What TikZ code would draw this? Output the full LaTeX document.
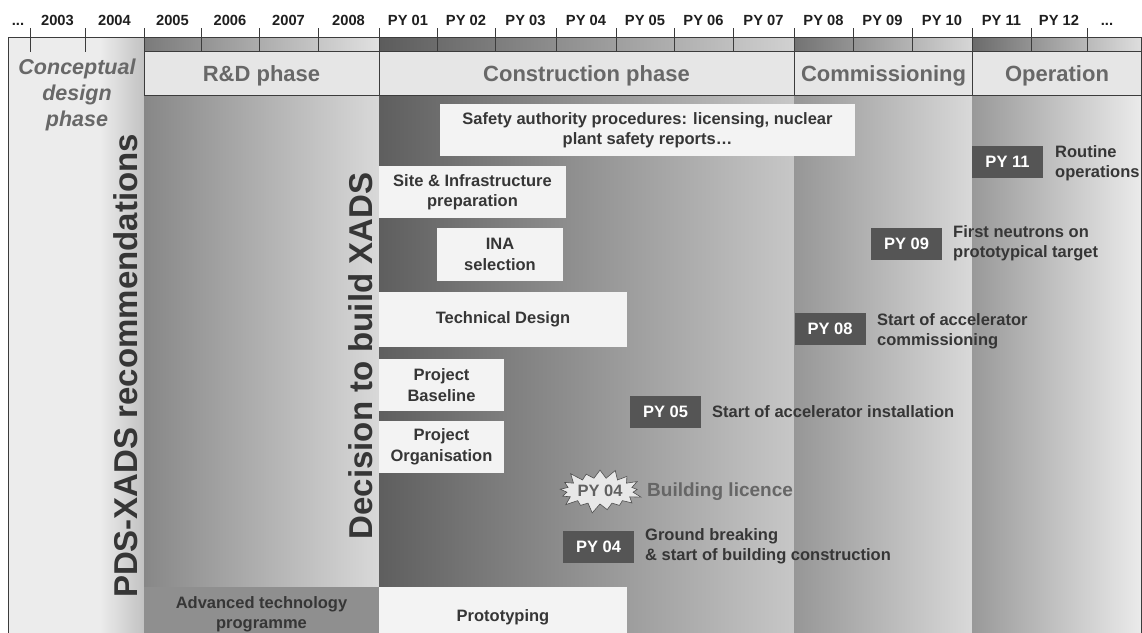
\documentclass[tikz,border=0pt]{standalone}
\usepackage{fontspec}
\setmainfont{Liberation Sans}
\usetikzlibrary{shapes.symbols}
\definecolor{txt}{HTML}{363636}
\definecolor{phasegray}{HTML}{686868}
\definecolor{hdrfill}{HTML}{E6E6E6}
\definecolor{boxfill}{HTML}{F3F3F3}
\definecolor{mfill}{HTML}{555555}
\definecolor{lines}{HTML}{3C3C3C}
\definecolor{colfill}{HTML}{ECECEC}
\begin{document}
\begin{tikzpicture}[x=1pt,y=-1pt,
  yr/.style={font=\fontsize{14.7}{16}\selectfont\bfseries, text=black!88, anchor=base, inner sep=0},
  hdrbox/.style={draw=lines, fill=hdrfill, line width=0.8pt},
  phasetxt/.style={font=\fontsize{22}{24}\selectfont\bfseries, text=phasegray, anchor=base, inner sep=0},
  wbox/.style={fill=boxfill, text=txt, font=\fontsize{16.5}{20.5}\selectfont\bfseries, align=center, inner sep=0},
  mbox/.style={fill=mfill, text=white, font=\fontsize{16.5}{20}\selectfont\bfseries, inner sep=0, minimum width=71pt, minimum height=32pt},
  mtxt/.style={text=txt, font=\fontsize{16.5}{20}\selectfont\bfseries, align=left, anchor=west, inner sep=0},
  vtxt/.style={rotate=90, anchor=base, font=\fontsize{33}{36}\selectfont\bfseries, text=txt, inner sep=0},
  tickline/.style={draw=lines, line width=0.8pt}
]
\useasboundingbox (0,0) rectangle (1142,632);
\begin{scope}
\clip (0,0) rectangle (1142,632);
\fill[white] (0,0) rectangle (1142,632);
% left column
\fill[colfill] (8,37) rectangle (144,640);
\shade[left color=colfill, right color=black!24] (100,37) rectangle (144,640);
% top strips
\shade[left color=black!52, right color=black!12] (144,37) rectangle (379,51);
\shade[left color=black!64, right color=black!18] (379,37) rectangle (794,51);
\shade[left color=black!55, right color=black!16] (794,37) rectangle (972,51);
\shade[left color=black!58, right color=black!13] (972,37) rectangle (1141,51);
% bodies
\shade[left color=black!47, right color=black!15] (144,95) rectangle (379,587);
\shade[left color=black!63, right color=black!22] (379,95) rectangle (794,640);
\shade[left color=black!41, right color=black!15] (794,95) rectangle (972,640);
\shade[left color=black!40, right color=black!8] (972,95) rectangle (1141,640);
% header boxes
\draw[hdrbox] (144,51) rectangle (379,95);
\draw[hdrbox] (379,51) rectangle (794,95);
\draw[hdrbox] (794,51) rectangle (972,95);
\draw[hdrbox] (972,51) rectangle (1141,95);
% frame
\draw[lines, line width=0.8pt] (8,640) -- (8,37) -- (1141,37) -- (1141,640);
\foreach \x in {30,85,144,201,259,318,379,437,495,556,616,674,733,794,853,912,972,1031,1087}
  \draw[tickline] (\x,28) -- (\x,52);
% year labels
\node[yr] (ylA) at (18,25.5) {...};
\foreach \x/\t [count=\i] in {57.5/2003,114.5/2004,172.5/2005,230/2006,288.5/2007,348.5/2008,408/PY 01,466/PY 02,525.5/PY 03,586/PY 04,645/PY 05,703.5/PY 06,763.5/PY 07,823.5/PY 08,882.5/PY 09,942/PY 10,1001.5/PY 11,1059/PY 12}
  \node[yr] (yl\i) at (\x,25.5) {\t};
\node[yr] (ylB) at (1107,25.5) {...};
% phase headers
\node[phasetxt] (rd) at (261.5,81.5) {R\&D phase};
\node[phasetxt] (cons) at (586.5,81.5) {Construction phase};
\node[phasetxt] (comm) at (883.5,81.5) {Commissioning};
\node[phasetxt] (oper) at (1057,81.5) {Operation};
\node[font=\fontsize{21.5}{26}\selectfont\bfseries\itshape, text=phasegray, align=center, inner sep=0] (concept) at (77,95) {Conceptual\\design\\phase};
% advanced technology
\node[fill=black!44, text=txt, font=\fontsize{16.5}{20}\selectfont\bfseries, align=center, inner sep=0, minimum width=235pt, minimum height=54pt] (adv) at (261.5,614) {Advanced technology\\programme};
% vertical texts
\node[vtxt] (pds) at (137,366) {PDS-XADS recommendations};
\node[vtxt] (decision) at (372,356) {Decision to build XADS};
% white boxes
\node[wbox, minimum width=415pt, minimum height=52pt] (safety) at (647.5,130) {Safety authority procedures: licensing, nuclear\\plant safety reports\ldots};
\node[wbox, minimum width=187pt, minimum height=52pt] (site) at (472.5,192) {Site \& Infrastructure\\preparation};
\node[wbox, minimum width=126pt, minimum height=53pt] (ina) at (500,254.5) {INA\\selection};
\node[wbox, minimum width=248pt, minimum height=55pt] (tech) at (503,319.5) {Technical Design};
\node[wbox, minimum width=125pt, minimum height=52pt] (baseline) at (441.5,385) {Project\\Baseline};
\node[wbox, minimum width=125pt, minimum height=52pt] (organisation) at (441.5,447) {Project\\Organisation};
\node[wbox, minimum width=248pt, minimum height=60pt] (proto) at (503,617) {Prototyping};
% milestones
\node[mbox] (m05) at (665.5,412) {PY 05};
\node[mtxt] (t05) at (712,412) {Start of accelerator installation};
\node[mbox] (m04) at (598.5,546.5) {PY 04};
\node[mtxt] (t04) at (645,546) {Ground breaking\\\& start of building construction};
\node[mbox] (m08) at (830,329) {PY 08};
\node[mtxt] (t08) at (877,331) {Start of accelerator\\commissioning};
\node[mbox] (m09) at (906.5,243.5) {PY 09};
\node[mtxt] (t09) at (953,243) {First neutrons on\\prototypical target};
\node[mbox] (m11) at (1007.5,162) {PY 11};
\node[mtxt] (t11) at (1055,163) {Routine\\operations};
% building licence
\node[starburst, starburst points=17, starburst point height=11pt, minimum width=78pt, minimum height=48pt, fill=black!9, draw=black!70, line width=0.6pt, inner sep=1pt, text=black!62, font=\fontsize{16.5}{20}\selectfont\bfseries] (burst) at (600,491) {PY 04};
\node[anchor=west, inner sep=0, text=black!60, font=\fontsize{19}{22}\selectfont\bfseries] (licence) at (647,492) {Building licence};
\end{scope}
\end{tikzpicture}
\end{document}
